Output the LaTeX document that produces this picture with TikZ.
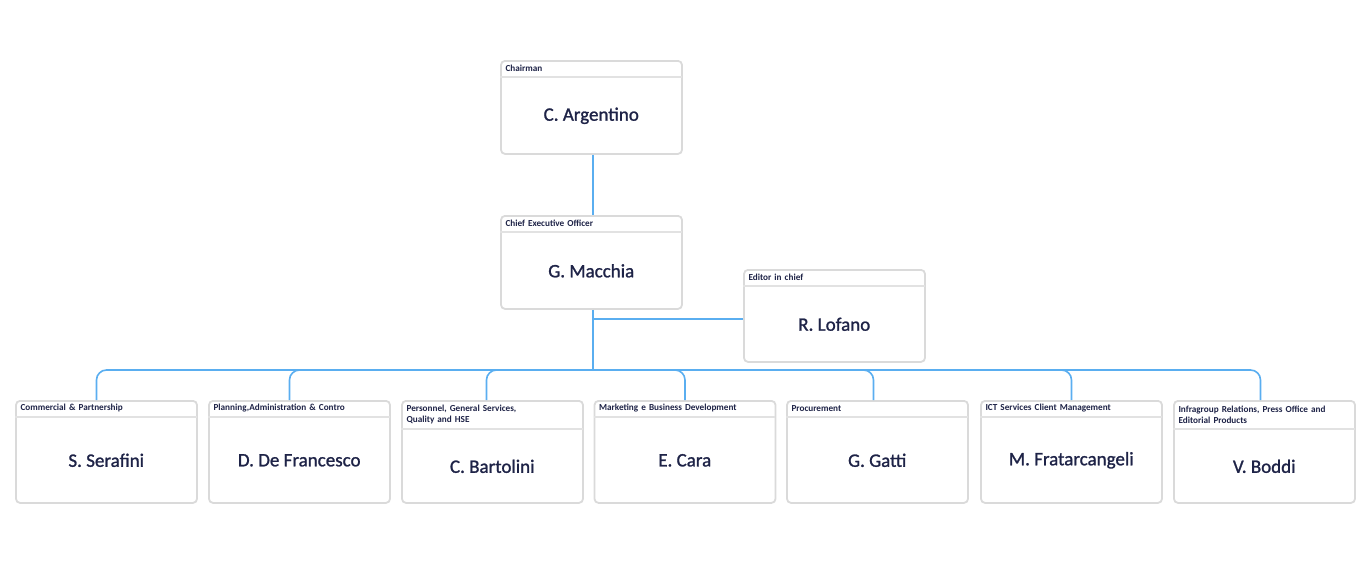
\documentclass[tikz,border=0pt]{standalone}
\usepackage{fontspec}
\setmainfont{Carlito}
\newfontfamily\orgnamefont[FakeBold=1.2]{Carlito}
\usepackage{tikz}
\usetikzlibrary{calc}
\definecolor{OrgInk}{HTML}{1E2347}
\definecolor{OrgLink}{HTML}{5AAEF0}
\definecolor{OrgEdge}{HTML}{DADADA}
\definecolor{OrgRule}{HTML}{E2E2E2}
\tikzset{
  org box/.style={
    rectangle, rounded corners=2pt, draw=OrgEdge, line width=0.9pt,
    fill=white, minimum width=90.5pt, inner sep=0pt, anchor=north
  },
  org head/.style={
    anchor=north west, inner xsep=2.5pt, inner ysep=1pt, text width=85.5pt,
    minimum height=8pt, align=left, text=OrgInk,
    font=\fontsize{4.6}{5.5}\selectfont\bfseries
  },
  org rule/.style={draw=OrgRule, line width=0.7pt},
  org name/.style={font=\orgnamefont\fontsize{9.5}{11}\selectfont, text=OrgInk},
  org link/.style={draw=OrgLink, line width=0.8pt, rounded corners=5pt}
}
\begin{document}
\begin{tikzpicture}[x=0.5pt, y=-0.5pt]
  \useasboundingbox (0,0) rectangle (1372,563);

  \node[org box, minimum height=46.5pt] (chair) at (591.5,60) {};
  \node[org head] (chair-head) at (chair.north west) {Chairman};
  \draw[org rule] (chair-head.south west) -- (chair-head.south east);
  \node[org name] (chair-name) at ($(chair-head.south)!0.5!(chair.south)$) {C. Argentino};

  \node[org box, minimum height=46.5pt] (ceo) at (591.5,215) {};
  \node[org head] (ceo-head) at (ceo.north west) {Chief Executive Officer};
  \draw[org rule] (ceo-head.south west) -- (ceo-head.south east);
  \node[org name] (ceo-name) at ($(ceo-head.south)!0.5!(ceo.south)$) {G. Macchia};

  \node[org box, minimum height=46pt] (editor) at (834.5,269) {};
  \node[org head] (editor-head) at (editor.north west) {Editor in chief};
  \draw[org rule] (editor-head.south west) -- (editor-head.south east);
  \node[org name] (editor-name) at ($(editor-head.south)!0.5!(editor.south)$) {R. Lofano};

  \node[org box, minimum height=51pt] (commercial) at (106.5,400) {};
  \node[org head] (commercial-head) at (commercial.north west) {Commercial \& Partnership};
  \draw[org rule] (commercial-head.south west) -- (commercial-head.south east);
  \node[org name] (commercial-name) at ($(commercial-head.south)!0.5!(commercial.south)$) {S. Serafini};

  \node[org box, minimum height=51pt] (planning) at (299.5,400) {};
  \node[org head] (planning-head) at (planning.north west) {Planning,Administration \& Contro};
  \draw[org rule] (planning-head.south west) -- (planning-head.south east);
  \node[org name] (planning-name) at ($(planning-head.south)!0.5!(planning.south)$) {D. De Francesco};

  \node[org box, minimum height=51pt] (personnel) at (492.5,400) {};
  \node[org head, minimum height=14pt] (personnel-head) at (personnel.north west)
    {Personnel, General Services,\\Quality and HSE};
  \draw[org rule] (personnel-head.south west) -- (personnel-head.south east);
  \node[org name] (personnel-name) at ($(personnel-head.south)!0.5!(personnel.south)$) {C. Bartolini};

  \node[org box, minimum height=51pt] (marketing) at (685,400) {};
  \node[org head] (marketing-head) at (marketing.north west) {Marketing e Business Development};
  \draw[org rule] (marketing-head.south west) -- (marketing-head.south east);
  \node[org name] (marketing-name) at ($(marketing-head.south)!0.5!(marketing.south)$) {E. Cara};

  \node[org box, minimum height=51pt] (procurement) at (877.5,400) {};
  \node[org head] (procurement-head) at (procurement.north west) {Procurement};
  \draw[org rule] (procurement-head.south west) -- (procurement-head.south east);
  \node[org name] (procurement-name) at ($(procurement-head.south)!0.5!(procurement.south)$) {G. Gatti};

  \node[org box, minimum height=51pt] (ict) at (1071.5,400) {};
  \node[org head] (ict-head) at (ict.north west) {ICT Services Client Management};
  \draw[org rule] (ict-head.south west) -- (ict-head.south east);
  \node[org name] (ict-name) at ($(ict-head.south)!0.5!(ict.south)$) {M. Fratarcangeli};

  \node[org box, minimum height=51pt] (relations) at (1264.5,400) {};
  \node[org head, minimum height=14pt] (relations-head) at (relations.north west)
    {Infragroup Relations, Press Office and\\Editorial Products};
  \draw[org rule] (relations-head.south west) -- (relations-head.south east);
  \node[org name] (relations-name) at ($(relations-head.south)!0.5!(relations.south)$) {V. Boddi};

  \coordinate (bus) at (593,370);
  \draw[org link] (chair.south -| bus) -- (ceo.north -| bus);
  \draw[org link] (ceo.south -| bus) -- (bus);
  \draw[org link] (editor.west |- 0,319) -- (bus |- 0,319);
  \draw[org link] (bus) -| ([xshift=-5pt]commercial.north);
  \draw[org link] (bus) -| ([xshift=-5pt]planning.north);
  \draw[org link] (bus) -| ([xshift=-3pt]personnel.north);
  \draw[org link] (bus) -| (marketing.north);
  \draw[org link] (bus) -| ([xshift=-2pt]procurement.north);
  \draw[org link] (bus) -| (ict.north);
  \draw[org link] (bus) -| ([xshift=-2pt]relations.north);
\end{tikzpicture}
\end{document}
